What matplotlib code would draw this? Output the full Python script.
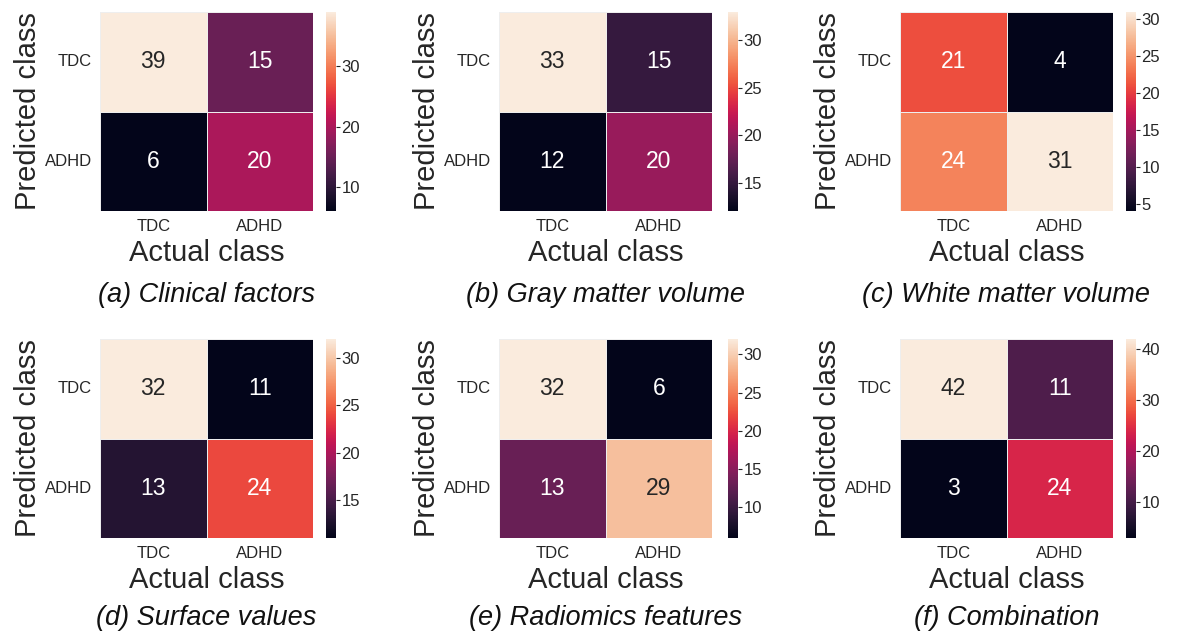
import numpy as np
import seaborn as sns
import matplotlib
matplotlib.use("Agg")
from matplotlib import pyplot as plt
from matplotlib.ticker import MultipleLocator

sns.set_style("white")
plt.rcParams['font.family'] = ['Liberation Sans', 'DejaVu Sans']
plt.rcParams['text.color'] = '#262626'
plt.rcParams['axes.labelcolor'] = '#262626'
plt.rcParams['xtick.color'] = '#262626'
plt.rcParams['ytick.color'] = '#262626'

class_names = ['TDC', 'ADHD']

# rows: predicted class, cols: actual class
clinical = [[39, 15], [6, 20]]
gray_matter = [[33, 15], [12, 20]]
white_matter = [[21, 4], [24, 31]]
surface = [[32, 11], [13, 24]]
radiomics = [[32, 6], [13, 29]]
combination = [[42, 11], [3, 24]]

captions = ['(a) Clinical factors', '(b) Gray matter volume', '(c) White matter volume',
            '(d) Surface values', '(e) Radiomics features', '(f) Combination']
matrices = [clinical, gray_matter, white_matter, surface, radiomics, combination]
cbar_steps = [10, 5, 5, 5, 5, 10]

W, H = 1181, 637
fig = plt.figure(figsize=(W / 100, H / 100), dpi=100)

col_x = [100, 499, 900]
cbar_x = [326, 728, 1126]
row_top = [12, 339]
hm_w, hm_h = 213, 199
caption_y = [295, 618]


def px_axes(x, y, w, h):
    return fig.add_axes([x / W, 1 - (y + h) / H, w / W, h / H])


for i, (cm, cap) in enumerate(zip(matrices, captions)):
    r, c = divmod(i, 3)
    ax = px_axes(col_x[c], row_top[r], hm_w, hm_h)
    cax = px_axes(cbar_x[c], row_top[r], 10, hm_h)
    sns.heatmap(np.array(cm), annot=True, fmt='d', cmap='rocket',
                xticklabels=class_names, yticklabels=class_names,
                linewidths=0.6, linecolor='#eeeeee',
                annot_kws={'fontsize': 16.5}, ax=ax, cbar_ax=cax)
    ax.tick_params(axis='both', labelsize=12, length=0, pad=6)
    ax.set_yticklabels(class_names, rotation=0)
    ax.set_xlabel('Actual class', fontsize=21, labelpad=3)
    ax.set_ylabel('Predicted class', fontsize=21, labelpad=2)
    cax.yaxis.set_major_locator(MultipleLocator(cbar_steps[i]))
    cax.tick_params(labelsize=12, length=3, width=0.8, pad=1)
    fig.text((col_x[c] + hm_w / 2) / W, 1 - caption_y[r] / H, cap,
             fontsize=19.5, style='italic', color='#111111',
             ha='center', va='center')

fig.savefig('out.png', dpi=100)
